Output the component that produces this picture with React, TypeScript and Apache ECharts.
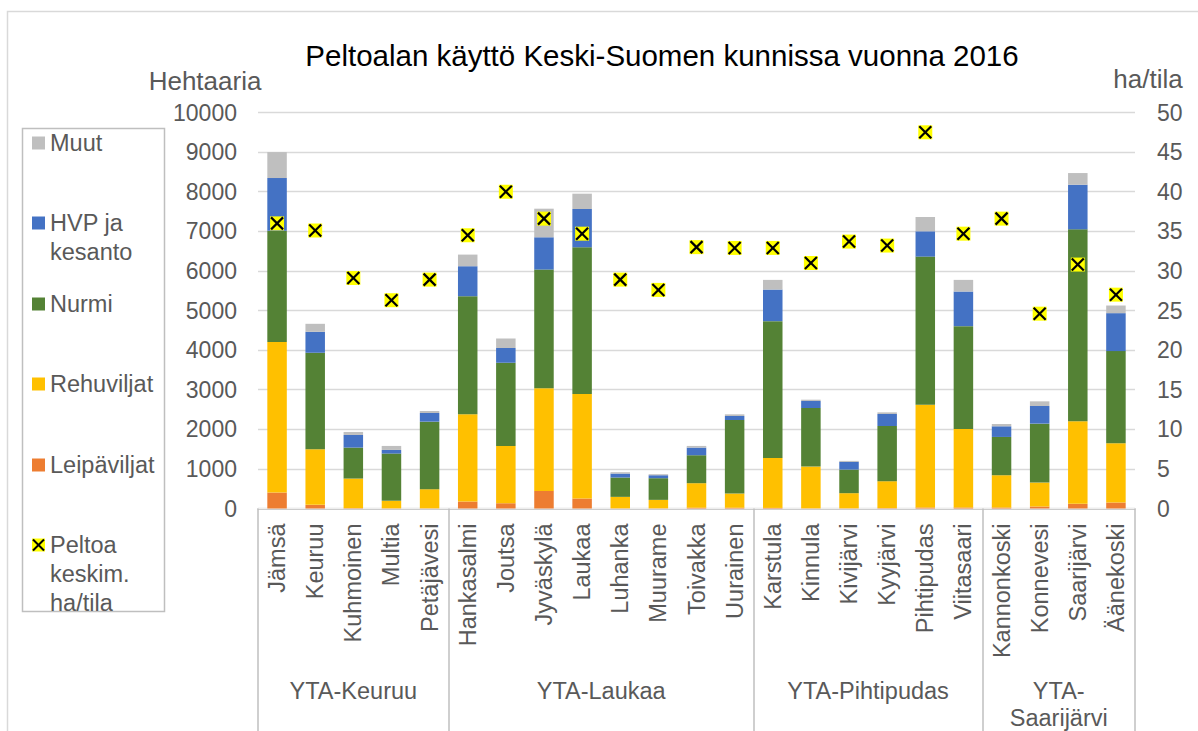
import React, { useEffect, useRef } from "react";
import * as echarts from "echarts";

const municipalities = [
  "Jämsä", "Keuruu", "Kuhmoinen", "Multia", "Petäjävesi",
  "Hankasalmi", "Joutsa", "Jyväskylä", "Laukaa", "Luhanka", "Muurame", "Toivakka", "Uurainen",
  "Karstula", "Kinnula", "Kivijärvi", "Kyyjärvi", "Pihtipudas", "Viitasaari",
  "Kannonkoski", "Konnevesi", "Saarijärvi", "Äänekoski",
];
const groupNames = ["YTA-Keuruu", "YTA-Laukaa", "YTA-Pihtipudas", "YTA-\nSaarijärvi"];
const groupSizes = [5, 8, 6, 4];

const leipaviljat = [403, 92, 10, 5, 5, 176, 134, 445, 252, 5, 5, 20, 20, 15, 5, 5, 10, 25, 25, 25, 50, 118, 151];
const rehuviljat = [3799, 1404, 746, 188, 482, 2202, 1446, 2589, 2639, 289, 213, 619, 358, 1262, 1054, 382, 679, 2597, 1983, 815, 605, 2084, 1496];
const nurmi = [2815, 2437, 782, 1194, 1706, 2983, 2101, 3000, 3706, 488, 547, 706, 1857, 3454, 1479, 596, 1395, 3739, 2597, 967, 1488, 4848, 2328];
const hvpKesanto = [1328, 529, 319, 92, 219, 757, 369, 815, 966, 100, 75, 193, 101, 798, 176, 193, 303, 639, 874, 269, 445, 1126, 958];
const muut = [655, 202, 76, 101, 50, 294, 244, 722, 387, 34, 26, 42, 42, 244, 34, 26, 41, 361, 294, 58, 118, 295, 193];
const peltoaHaTila = [36.0, 35.1, 29.1, 26.3, 28.9, 34.5, 40.0, 36.6, 34.7, 28.9, 27.6, 33.0, 32.9, 32.9, 31.0, 33.7, 33.2, 47.5, 34.7, 36.6, 24.6, 30.8, 27.0];

const seriesNames = ["Leipäviljat", "Rehuviljat", "Nurmi", "HVP ja kesanto", "Muut"];
const legendLabels = ["Muut", "HVP ja\nkesanto", "Nurmi", "Rehuviljat", "Leipäviljat", "Peltoa\nkeskim.\nha/tila"];
const colors = ["#ED7D31", "#FFC000", "#548235", "#4472C4", "#BFBFBF"];
const scatterName = "Peltoa keskim. ha/tila";

const FONT = '"Liberation Sans", Arial, sans-serif';
const GREY = "#595959";

export default function App() {
  const ref = useRef<HTMLDivElement>(null);
  useEffect(() => {
    document.body.style.margin = "0";
    const chart = echarts.init(ref.current!, null, { renderer: "svg" });
    const W = 1198, H = 731;
    const gridLeft = 258, gridRight = 1135, gridTop = 112.5, gridBottom = 509.5;

    const barData = [leipaviljat, rehuviljat, nurmi, hvpKesanto, muut];

    const groupCenters: number[] = [];
    const groupTickStarts: number[] = [];
    let acc = 0;
    groupSizes.forEach((s) => {
      groupTickStarts.push(acc);
      groupCenters.push(acc + s / 2);
      acc += s;
    });

    const legendColors = ["#BFBFBF", "#4472C4", "#548235", "#FFC000", "#ED7D31"];
    const legendY = [143, 223, 304, 384, 465, 545];
    const legendEls: any[] = [];
    legendLabels.forEach((lbl, i) => {
      const cy = legendY[i];
      if (i < 5) {
        legendEls.push({
          type: "rect",
          shape: { x: 32, y: cy - 6.5, width: 13, height: 13 },
          style: { fill: legendColors[i] },
        });
      } else {
        legendEls.push({
          type: "rect",
          shape: { x: 32, y: cy - 6.5, width: 13, height: 13 },
          style: { fill: "#FFFF00" },
        });
        legendEls.push({
          type: "line",
          shape: { x1: 33, y1: cy - 5.5, x2: 44, y2: cy + 5.5 },
          style: { stroke: "#000", lineWidth: 2 },
        });
        legendEls.push({
          type: "line",
          shape: { x1: 44, y1: cy - 5.5, x2: 33, y2: cy + 5.5 },
          style: { stroke: "#000", lineWidth: 2 },
        });
      }
      legendEls.push({
        type: "text",
        x: 50,
        y: cy - 14.5,
        style: {
          text: lbl,
          font: `23.5px ${FONT}`,
          fill: GREY,
          lineHeight: 29,
          textAlign: "left",
          textVerticalAlign: "top",
          align: "left",
          verticalAlign: "top",
        },
      });
    });

    const option: any = {
      animation: false,
      backgroundColor: "#fff",
      title: {
        text: "Peltoalan käyttö Keski-Suomen kunnissa vuonna 2016",
        left: 662,
        top: 40,
        padding: 0,
        textAlign: "center",
        textStyle: { fontSize: 29.5, fontWeight: "normal", color: "#000", fontFamily: FONT },
      },
      grid: { left: gridLeft, right: W - gridRight, top: gridTop, bottom: H - gridBottom, containLabel: false },
      xAxis: [
        {
          type: "category",
          data: municipalities,
          position: "bottom",
          axisLine: { show: true, lineStyle: { color: "#BFBFBF", width: 1.5 } },
          axisTick: {
            show: true,
            length: 230,
            interval: (idx: number) => groupTickStarts.indexOf(idx) >= 0,
            lineStyle: { color: "#BFBFBF", width: 1.5 },
          },
          axisLabel: {
            interval: 0,
            rotate: 90,
            margin: 15,
            fontSize: 23.5,
            color: GREY,
            fontFamily: FONT,
          },
          splitLine: { show: false },
        },
        {
          type: "value",
          min: 0,
          max: municipalities.length,
          interval: 0.5,
          position: "bottom",
          offset: 154.5,
          axisLine: { show: true, lineStyle: { color: "#EEEEEE", width: 1 } },
          axisTick: { show: false },
          splitLine: { show: false },
          axisLabel: {
            margin: 14,
            fontSize: 23.5,
            lineHeight: 27,
            color: GREY,
            fontFamily: FONT,
            showMinLabel: true,
            showMaxLabel: true,
            formatter: (v: number) => {
              const k = groupCenters.findIndex((c) => Math.abs(c - v) < 1e-6);
              return k >= 0 ? groupNames[k] : "";
            },
          },
        },
      ],
      yAxis: [
        {
          type: "value",
          min: 0,
          max: 10000,
          interval: 1000,
          axisLine: { show: false },
          axisTick: { show: false },
          axisLabel: {
            margin: 21,
            fontSize: 23,
            color: GREY,
            fontFamily: FONT,
            formatter: (v: number) => String(v),
          },
          splitLine: { show: true, lineStyle: { color: "#D9D9D9", width: 1.3 } },
        },
        {
          type: "value",
          min: 0,
          max: 50,
          interval: 5,
          position: "right",
          axisLine: { show: false },
          axisTick: { show: false },
          axisLabel: {
            margin: 22,
            fontSize: 23,
            color: GREY,
            fontFamily: FONT,
            align: "left",
            formatter: (v: number) => String(v),
          },
          splitLine: { show: false },
        },
      ],
      series: [
        ...seriesNames.map((name, i) => ({
          name,
          type: "bar",
          stack: "total",
          xAxisIndex: 0,
          yAxisIndex: 0,
          barWidth: 19.5,
          itemStyle: { color: colors[i] },
          data: barData[i],
        })),
        {
          name: scatterName,
          type: "custom",
          xAxisIndex: 0,
          yAxisIndex: 1,
          encode: { x: 0, y: 1 },
          data: peltoaHaTila.map((v, i) => [i, v]),
          renderItem: (params: any, api: any) => {
            const p = api.coord([api.value(0), api.value(1)]);
            const s = 7;
            const d = 6;
            return {
              type: "group",
              children: [
                { type: "rect", shape: { x: p[0] - s, y: p[1] - s, width: 2 * s, height: 2 * s }, style: { fill: "#FFFF00" } },
                { type: "line", shape: { x1: p[0] - d, y1: p[1] - d, x2: p[0] + d, y2: p[1] + d }, style: { stroke: "#000", lineWidth: 2.2 } },
                { type: "line", shape: { x1: p[0] + d, y1: p[1] - d, x2: p[0] - d, y2: p[1] + d }, style: { stroke: "#000", lineWidth: 2.2 } },
              ],
            };
          },
          z: 5,
        },
      ],
      graphic: [
        {
          type: "rect",
          shape: { x: 7.5, y: 11.5, width: 1400, height: 1000 },
          style: { fill: "none", stroke: "#D9D9D9", lineWidth: 1.5 },
          z: -10,
          silent: true,
        },
        {
          type: "rect",
          shape: { x: 22.5, y: 128.5, width: 142, height: 483 },
          style: { fill: "#fff", stroke: "#BFBFBF", lineWidth: 1.5 },
          silent: true,
        },
        ...legendEls,
        {
          type: "text",
          x: 205,
          y: 81,
          style: {
            text: "Hehtaaria",
            font: `26px ${FONT}`,
            fill: GREY,
            textAlign: "center",
            textVerticalAlign: "middle",
            align: "center",
            verticalAlign: "middle",
          },
        },
        {
          type: "text",
          x: 1148,
          y: 79,
          style: {
            text: "ha/tila",
            font: `26px ${FONT}`,
            fill: GREY,
            textAlign: "center",
            textVerticalAlign: "middle",
            align: "center",
            verticalAlign: "middle",
          },
        },
      ],
    };
    chart.setOption(option);
    return () => chart.dispose();
  }, []);
  return <div ref={ref} style={{ width: 1198, height: 731 }} />;
}
